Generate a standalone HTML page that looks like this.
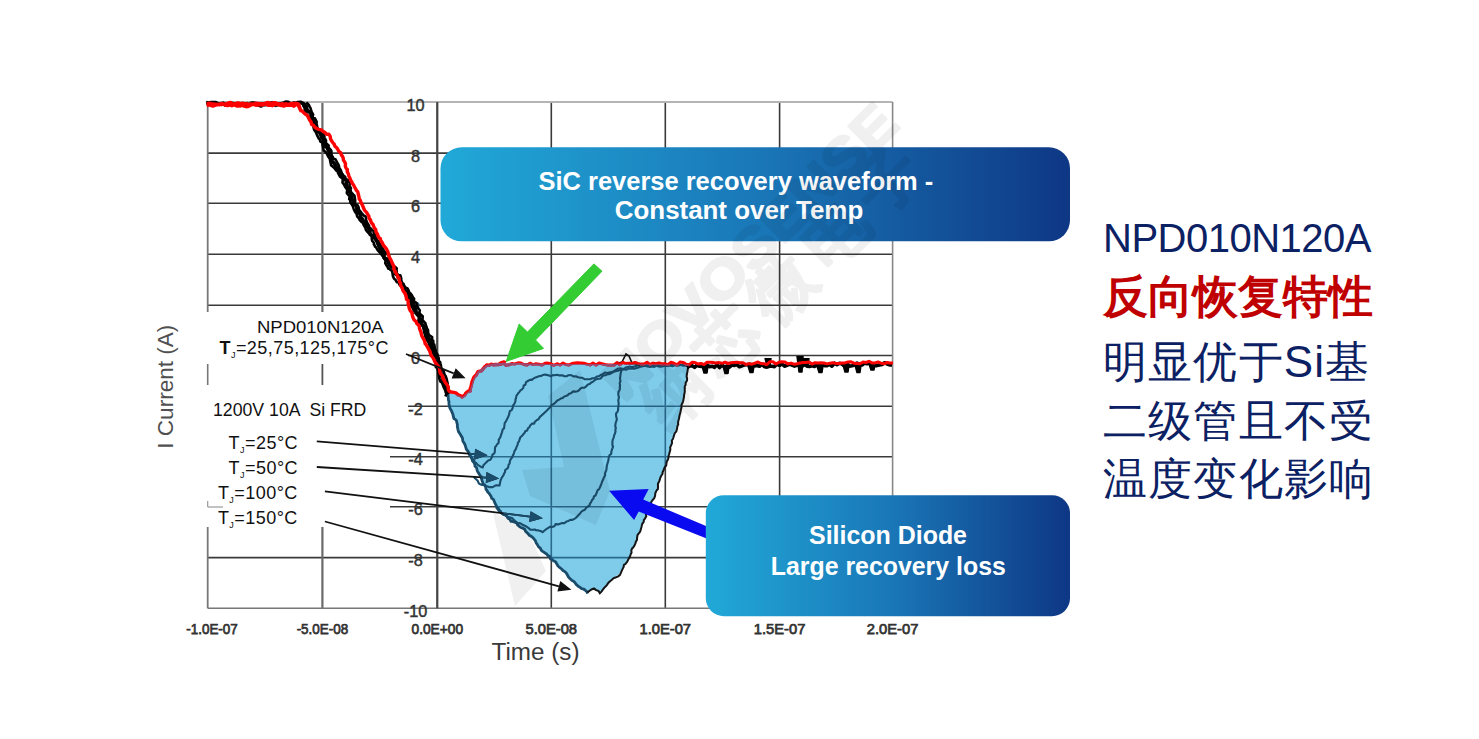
<!DOCTYPE html>
<html><head><meta charset="utf-8"><style>
html,body{margin:0;padding:0;background:#fff;}
body{width:1479px;height:739px;position:relative;overflow:hidden;font-family:"Liberation Sans",sans-serif;}
svg{position:absolute;left:0;top:0;}
.r{position:absolute;left:1103px;white-space:nowrap;color:#0c2163;line-height:1;}
</style></head><body>
<svg width="1479" height="739" viewBox="0 0 1479 739">
<line x1="207.7" y1="153.1" x2="892.6" y2="153.1" stroke="#3a3a3a" stroke-width="1.6"/>
<line x1="207.7" y1="203.2" x2="892.6" y2="203.2" stroke="#3a3a3a" stroke-width="1.6"/>
<line x1="207.7" y1="254.3" x2="892.6" y2="254.3" stroke="#3a3a3a" stroke-width="1.6"/>
<line x1="207.7" y1="305.2" x2="892.6" y2="305.2" stroke="#3a3a3a" stroke-width="1.6"/>
<line x1="207.7" y1="355.5" x2="892.6" y2="355.5" stroke="#3a3a3a" stroke-width="1.6"/>
<line x1="207.7" y1="406.2" x2="892.6" y2="406.2" stroke="#3a3a3a" stroke-width="1.6"/>
<line x1="207.7" y1="456.7" x2="892.6" y2="456.7" stroke="#3a3a3a" stroke-width="1.6"/>
<line x1="207.7" y1="506.8" x2="892.6" y2="506.8" stroke="#3a3a3a" stroke-width="1.6"/>
<line x1="207.7" y1="557.6" x2="892.6" y2="557.6" stroke="#3a3a3a" stroke-width="1.6"/>
<line x1="322.4" y1="101.9" x2="322.4" y2="608.3" stroke="#6a6a6a" stroke-width="2.2"/>
<line x1="437.3" y1="101.9" x2="437.3" y2="608.3" stroke="#3a3a3a" stroke-width="1.6"/>
<line x1="551.3" y1="101.9" x2="551.3" y2="608.3" stroke="#3a3a3a" stroke-width="1.6"/>
<line x1="665.3" y1="101.9" x2="665.3" y2="608.3" stroke="#3a3a3a" stroke-width="1.6"/>
<line x1="779.6" y1="101.9" x2="779.6" y2="608.3" stroke="#3a3a3a" stroke-width="1.6"/>
<line x1="205.7" y1="101.9" x2="892.6" y2="101.9" stroke="#b4b4b4" stroke-width="2"/>
<line x1="207.7" y1="608.3" x2="892.6" y2="608.3" stroke="#777" stroke-width="1.6"/>
<line x1="207.7" y1="101.9" x2="207.7" y2="608.3" stroke="#777" stroke-width="1.8"/>
<line x1="892.6" y1="101.9" x2="892.6" y2="608.3" stroke="#888" stroke-width="1.6"/>
<line x1="437.3" y1="101.9" x2="437.3" y2="608.3" stroke="#444" stroke-width="2"/>
<rect x="204" y="312" width="186" height="215" fill="#fff"/>
<rect x="204" y="312" width="204" height="96" fill="#fff"/>
<line x1="207.7" y1="364" x2="207.7" y2="385" stroke="#777" stroke-width="1.6"/>
<line x1="322.4" y1="364" x2="322.4" y2="385" stroke="#555" stroke-width="1.8"/>
<line x1="207.7" y1="507" x2="223" y2="507" stroke="#999" stroke-width="1.2"/>
<line x1="207.7" y1="501" x2="207.7" y2="507" stroke="#999" stroke-width="1.2"/>
<text x="415.5" y="110.5" text-anchor="middle" font-family="Liberation Sans" font-size="16.3" fill="#333" stroke="#333" stroke-width="0.45">10</text>
<text x="415.5" y="161.7" text-anchor="middle" font-family="Liberation Sans" font-size="16.3" fill="#333" stroke="#333" stroke-width="0.45">8</text>
<text x="415.5" y="211.8" text-anchor="middle" font-family="Liberation Sans" font-size="16.3" fill="#333" stroke="#333" stroke-width="0.45">6</text>
<text x="415.5" y="262.9" text-anchor="middle" font-family="Liberation Sans" font-size="16.3" fill="#333" stroke="#333" stroke-width="0.45">4</text>
<text x="415.5" y="313.8" text-anchor="middle" font-family="Liberation Sans" font-size="16.3" fill="#333" stroke="#333" stroke-width="0.45">2</text>
<text x="415.5" y="364.1" text-anchor="middle" font-family="Liberation Sans" font-size="16.3" fill="#333" stroke="#333" stroke-width="0.45">0</text>
<text x="415.5" y="414.8" text-anchor="middle" font-family="Liberation Sans" font-size="16.3" fill="#333" stroke="#333" stroke-width="0.45">-2</text>
<text x="415.5" y="465.3" text-anchor="middle" font-family="Liberation Sans" font-size="16.3" fill="#333" stroke="#333" stroke-width="0.45">-4</text>
<text x="415.5" y="515.4" text-anchor="middle" font-family="Liberation Sans" font-size="16.3" fill="#333" stroke="#333" stroke-width="0.45">-6</text>
<text x="415.5" y="566.2" text-anchor="middle" font-family="Liberation Sans" font-size="16.3" fill="#333" stroke="#333" stroke-width="0.45">-8</text>
<text x="415.5" y="616.9" text-anchor="middle" font-family="Liberation Sans" font-size="16.3" fill="#333" stroke="#333" stroke-width="0.45">-10</text>
<text x="212.0" y="633.9" text-anchor="middle" font-family="Liberation Sans" font-size="15" textLength="51.5" lengthAdjust="spacingAndGlyphs" fill="#333" stroke="#333" stroke-width="0.75">-1.0E-07</text>
<text x="322.4" y="633.9" text-anchor="middle" font-family="Liberation Sans" font-size="15" textLength="51.5" lengthAdjust="spacingAndGlyphs" fill="#333" stroke="#333" stroke-width="0.75">-5.0E-08</text>
<text x="437.3" y="633.9" text-anchor="middle" font-family="Liberation Sans" font-size="15" textLength="51.5" lengthAdjust="spacingAndGlyphs" fill="#333" stroke="#333" stroke-width="0.75">0.0E+00</text>
<text x="551.3" y="633.9" text-anchor="middle" font-family="Liberation Sans" font-size="15" textLength="51.5" lengthAdjust="spacingAndGlyphs" fill="#333" stroke="#333" stroke-width="0.75">5.0E-08</text>
<text x="665.3" y="633.9" text-anchor="middle" font-family="Liberation Sans" font-size="15" textLength="51.5" lengthAdjust="spacingAndGlyphs" fill="#333" stroke="#333" stroke-width="0.75">1.0E-07</text>
<text x="779.6" y="633.9" text-anchor="middle" font-family="Liberation Sans" font-size="15" textLength="51.5" lengthAdjust="spacingAndGlyphs" fill="#333" stroke="#333" stroke-width="0.75">1.5E-07</text>
<text x="892.6" y="633.9" text-anchor="middle" font-family="Liberation Sans" font-size="15" textLength="51.5" lengthAdjust="spacingAndGlyphs" fill="#333" stroke="#333" stroke-width="0.75">2.0E-07</text>
<text x="535.5" y="660" text-anchor="middle" font-family="Liberation Sans" font-size="23" textLength="88" lengthAdjust="spacingAndGlyphs" fill="#3a3a3a">Time (s)</text>
<text transform="translate(173,386.7) rotate(-90)" text-anchor="middle" font-family="Liberation Sans" font-size="21.5" textLength="124" lengthAdjust="spacingAndGlyphs" fill="#505050">I Current (A)</text>
<path d="M446.0,393.0 L449.5,393.5 L451.7,393.8 L453.8,394.2 L456.0,394.5 L458.2,395.3 L460.3,396.2 L462.5,397.0 L464.0,395.6 L465.5,394.2 L467.0,392.8 L468.5,391.4 L470.0,390.0 L470.7,387.8 L471.3,385.6 L472.0,383.4 L472.6,381.2 L473.3,379.0 L474.4,377.1 L475.5,375.2 L476.5,373.4 L477.6,371.5 L479.3,370.2 L481.1,368.9 L482.8,367.6 L484.6,366.3 L486.3,365.0 L488.5,364.6 L490.6,364.1 L492.8,363.6 L495.0,363.2 L497.2,363.1 L499.3,363.0 L501.5,362.9 L503.6,362.8 L505.8,362.7 L507.8,362.8 L509.9,362.8 L511.9,362.9 L513.9,362.9 L516.0,363.0 L518.0,363.1 L520.0,363.1 L522.1,363.2 L524.1,363.2 L526.1,363.3 L528.1,363.4 L530.2,363.4 L532.2,363.5 L534.2,363.5 L536.3,363.6 L538.3,363.6 L540.3,363.7 L542.4,363.8 L544.4,363.8 L546.4,363.9 L548.5,363.9 L550.5,364.0 L552.5,364.0 L554.6,364.0 L556.6,364.0 L558.6,364.0 L560.7,364.0 L562.7,364.0 L564.7,364.0 L566.8,364.0 L568.8,364.0 L570.8,364.0 L572.9,364.1 L574.9,364.1 L576.9,364.1 L579.0,364.1 L581.0,364.1 L583.0,364.1 L585.1,364.1 L587.1,364.1 L589.1,364.1 L591.2,364.1 L593.2,364.1 L595.2,364.1 L597.3,364.1 L599.3,364.1 L601.4,364.1 L603.4,364.1 L605.4,364.1 L607.5,364.1 L609.5,364.1 L611.5,364.1 L613.6,364.1 L615.6,364.1 L617.6,364.1 L619.7,364.2 L621.7,364.2 L623.7,364.2 L625.8,364.2 L627.8,364.2 L629.8,364.2 L631.9,364.2 L633.9,364.2 L635.9,364.2 L638.0,364.2 L640.0,364.2 L642.0,364.2 L644.1,364.2 L646.1,364.2 L648.2,364.2 L650.2,364.3 L652.2,364.3 L654.3,364.3 L656.3,364.3 L658.4,364.3 L660.4,364.3 L662.5,364.3 L664.5,364.4 L666.5,364.4 L668.6,364.4 L670.6,364.4 L672.7,364.4 L674.7,364.4 L676.8,364.4 L678.8,364.4 L680.8,364.4 L682.9,364.5 L684.9,364.5 L687.0,364.5 L689.0,364.5 L689.0,365.0 L688.6,367.1 L688.2,369.2 L687.9,371.3 L687.5,373.4 L687.1,375.5 L686.7,377.6 L686.4,379.8 L686.0,381.9 L685.6,384.0 L685.2,386.1 L684.9,388.2 L684.5,390.3 L684.1,392.4 L683.7,394.4 L683.3,396.5 L682.9,398.5 L682.5,400.5 L682.1,402.6 L681.7,404.6 L681.3,406.6 L680.9,408.6 L680.4,410.7 L680.0,412.7 L679.6,414.7 L679.2,416.8 L678.8,418.8 L678.4,420.8 L678.0,422.9 L677.6,424.9 L677.0,426.9 L676.4,428.9 L675.8,431.0 L675.2,433.0 L674.6,435.0 L674.0,437.1 L673.4,439.1 L672.8,441.1 L672.1,443.1 L671.5,445.1 L670.9,447.2 L670.3,449.2 L669.7,451.2 L669.1,453.2 L668.5,455.3 L667.9,457.3 L667.2,459.2 L666.6,461.2 L665.9,463.2 L665.3,465.1 L664.6,467.1 L664.0,469.0 L663.4,470.9 L662.7,472.9 L662.0,474.9 L661.4,476.8 L660.8,478.8 L660.1,480.7 L659.4,482.7 L658.8,484.6 L658.1,486.6 L657.5,488.5 L656.9,490.4 L656.2,492.4 L655.5,494.4 L654.9,496.3 L654.0,498.2 L653.2,500.2 L652.3,502.1 L651.4,504.1 L650.6,506.0 L649.7,508.0 L648.8,509.9 L648.0,511.9 L647.1,513.8 L646.2,515.8 L645.4,517.7 L644.5,519.7 L643.6,521.6 L642.8,523.6 L641.9,525.5 L641.1,527.4 L640.4,529.4 L639.6,531.3 L638.9,533.3 L638.1,535.2 L637.4,537.2 L636.6,539.1 L635.9,541.1 L635.1,543.0 L634.4,545.0 L633.6,546.9 L632.9,548.9 L632.1,550.8 L631.4,552.8 L630.6,554.7 L629.6,556.5 L628.5,558.2 L627.5,560.0 L626.5,561.8 L625.4,563.5 L624.4,565.3 L623.3,567.0 L622.3,568.8 L621.3,570.6 L620.2,572.3 L619.2,574.1 L617.0,575.5 L614.7,576.9 L613.3,578.6 L611.9,580.3 L610.5,582.0 L609.0,583.7 L607.6,585.4 L606.2,587.1 L604.6,588.5 L603.0,589.8 L601.4,591.1 L599.8,592.5 L598.0,591.4 L596.2,590.2 L594.4,589.1 L592.2,590.2 L589.9,591.4 L587.7,592.5 L587.7,592.5 L586.0,591.4 L584.3,590.2 L582.6,589.1 L580.9,588.0 L579.2,586.8 L577.5,585.7 L576.0,584.4 L574.5,583.0 L572.9,581.6 L571.4,580.3 L570.1,578.7 L568.7,577.0 L567.4,575.4 L566.0,573.7 L564.7,572.1 L563.3,570.4 L562.0,568.8 L560.3,567.3 L558.6,565.9 L556.9,564.4 L555.2,562.9 L553.5,561.5 L551.8,560.0 L550.4,558.5 L549.0,557.0 L547.6,555.5 L546.2,554.0 L544.8,552.5 L543.3,551.0 L541.9,549.5 L540.5,548.0 L539.1,546.5 L537.7,545.0 L536.3,543.3 L534.8,541.6 L533.4,539.9 L532.0,538.2 L530.5,536.6 L529.1,534.9 L527.7,533.2 L526.2,531.5 L524.8,529.8 L523.1,528.7 L521.4,527.5 L519.7,526.4 L518.0,525.2 L516.2,524.1 L514.5,522.9 L512.8,521.8 L511.1,520.6 L509.4,519.5 L508.0,518.1 L506.6,516.7 L505.1,515.2 L503.7,513.8 L502.3,512.4 L500.9,511.0 L499.4,509.5 L498.0,508.1 L496.6,506.7 L495.6,504.9 L494.6,503.1 L493.6,501.3 L492.6,499.6 L491.6,497.8 L490.6,496.0 L489.7,494.2 L488.7,492.4 L487.7,490.6 L486.7,488.9 L485.7,487.1 L484.7,485.3 L483.7,483.5 L482.8,481.7 L481.9,479.8 L480.9,478.0 L480.0,476.2 L479.1,474.3 L478.2,472.5 L477.2,470.6 L476.3,468.8 L475.4,467.0 L474.5,465.1 L473.6,463.3 L472.6,461.5 L471.7,459.6 L470.8,457.8 L469.9,455.9 L469.1,453.9 L468.2,452.0 L467.4,450.1 L466.6,448.2 L465.7,446.2 L464.9,444.3 L464.0,442.4 L463.2,440.5 L462.3,438.6 L461.5,436.6 L460.6,434.7 L459.9,432.8 L459.2,430.9 L458.5,429.0 L457.9,427.2 L457.2,425.3 L456.5,423.4 L455.8,421.5 L455.1,419.6 L454.4,417.7 L453.7,415.8 L453.0,413.9 L452.4,412.1 L451.7,410.2 L451.0,408.3 L450.3,406.4 L449.7,404.2 L449.2,402.0 L448.6,399.8 L448.1,397.6 L447.5,395.4 L447.0,393.2 L446.4,391.0 Z" fill="#7ecbea"/>
<clipPath id="fc"><path d="M446.0,393.0 L449.5,393.5 L451.7,393.8 L453.8,394.2 L456.0,394.5 L458.2,395.3 L460.3,396.2 L462.5,397.0 L464.0,395.6 L465.5,394.2 L467.0,392.8 L468.5,391.4 L470.0,390.0 L470.7,387.8 L471.3,385.6 L472.0,383.4 L472.6,381.2 L473.3,379.0 L474.4,377.1 L475.5,375.2 L476.5,373.4 L477.6,371.5 L479.3,370.2 L481.1,368.9 L482.8,367.6 L484.6,366.3 L486.3,365.0 L488.5,364.6 L490.6,364.1 L492.8,363.6 L495.0,363.2 L497.2,363.1 L499.3,363.0 L501.5,362.9 L503.6,362.8 L505.8,362.7 L507.8,362.8 L509.9,362.8 L511.9,362.9 L513.9,362.9 L516.0,363.0 L518.0,363.1 L520.0,363.1 L522.1,363.2 L524.1,363.2 L526.1,363.3 L528.1,363.4 L530.2,363.4 L532.2,363.5 L534.2,363.5 L536.3,363.6 L538.3,363.6 L540.3,363.7 L542.4,363.8 L544.4,363.8 L546.4,363.9 L548.5,363.9 L550.5,364.0 L552.5,364.0 L554.6,364.0 L556.6,364.0 L558.6,364.0 L560.7,364.0 L562.7,364.0 L564.7,364.0 L566.8,364.0 L568.8,364.0 L570.8,364.0 L572.9,364.1 L574.9,364.1 L576.9,364.1 L579.0,364.1 L581.0,364.1 L583.0,364.1 L585.1,364.1 L587.1,364.1 L589.1,364.1 L591.2,364.1 L593.2,364.1 L595.2,364.1 L597.3,364.1 L599.3,364.1 L601.4,364.1 L603.4,364.1 L605.4,364.1 L607.5,364.1 L609.5,364.1 L611.5,364.1 L613.6,364.1 L615.6,364.1 L617.6,364.1 L619.7,364.2 L621.7,364.2 L623.7,364.2 L625.8,364.2 L627.8,364.2 L629.8,364.2 L631.9,364.2 L633.9,364.2 L635.9,364.2 L638.0,364.2 L640.0,364.2 L642.0,364.2 L644.1,364.2 L646.1,364.2 L648.2,364.2 L650.2,364.3 L652.2,364.3 L654.3,364.3 L656.3,364.3 L658.4,364.3 L660.4,364.3 L662.5,364.3 L664.5,364.4 L666.5,364.4 L668.6,364.4 L670.6,364.4 L672.7,364.4 L674.7,364.4 L676.8,364.4 L678.8,364.4 L680.8,364.4 L682.9,364.5 L684.9,364.5 L687.0,364.5 L689.0,364.5 L689.0,365.0 L688.6,367.1 L688.2,369.2 L687.9,371.3 L687.5,373.4 L687.1,375.5 L686.7,377.6 L686.4,379.8 L686.0,381.9 L685.6,384.0 L685.2,386.1 L684.9,388.2 L684.5,390.3 L684.1,392.4 L683.7,394.4 L683.3,396.5 L682.9,398.5 L682.5,400.5 L682.1,402.6 L681.7,404.6 L681.3,406.6 L680.9,408.6 L680.4,410.7 L680.0,412.7 L679.6,414.7 L679.2,416.8 L678.8,418.8 L678.4,420.8 L678.0,422.9 L677.6,424.9 L677.0,426.9 L676.4,428.9 L675.8,431.0 L675.2,433.0 L674.6,435.0 L674.0,437.1 L673.4,439.1 L672.8,441.1 L672.1,443.1 L671.5,445.1 L670.9,447.2 L670.3,449.2 L669.7,451.2 L669.1,453.2 L668.5,455.3 L667.9,457.3 L667.2,459.2 L666.6,461.2 L665.9,463.2 L665.3,465.1 L664.6,467.1 L664.0,469.0 L663.4,470.9 L662.7,472.9 L662.0,474.9 L661.4,476.8 L660.8,478.8 L660.1,480.7 L659.4,482.7 L658.8,484.6 L658.1,486.6 L657.5,488.5 L656.9,490.4 L656.2,492.4 L655.5,494.4 L654.9,496.3 L654.0,498.2 L653.2,500.2 L652.3,502.1 L651.4,504.1 L650.6,506.0 L649.7,508.0 L648.8,509.9 L648.0,511.9 L647.1,513.8 L646.2,515.8 L645.4,517.7 L644.5,519.7 L643.6,521.6 L642.8,523.6 L641.9,525.5 L641.1,527.4 L640.4,529.4 L639.6,531.3 L638.9,533.3 L638.1,535.2 L637.4,537.2 L636.6,539.1 L635.9,541.1 L635.1,543.0 L634.4,545.0 L633.6,546.9 L632.9,548.9 L632.1,550.8 L631.4,552.8 L630.6,554.7 L629.6,556.5 L628.5,558.2 L627.5,560.0 L626.5,561.8 L625.4,563.5 L624.4,565.3 L623.3,567.0 L622.3,568.8 L621.3,570.6 L620.2,572.3 L619.2,574.1 L617.0,575.5 L614.7,576.9 L613.3,578.6 L611.9,580.3 L610.5,582.0 L609.0,583.7 L607.6,585.4 L606.2,587.1 L604.6,588.5 L603.0,589.8 L601.4,591.1 L599.8,592.5 L598.0,591.4 L596.2,590.2 L594.4,589.1 L592.2,590.2 L589.9,591.4 L587.7,592.5 L587.7,592.5 L586.0,591.4 L584.3,590.2 L582.6,589.1 L580.9,588.0 L579.2,586.8 L577.5,585.7 L576.0,584.4 L574.5,583.0 L572.9,581.6 L571.4,580.3 L570.1,578.7 L568.7,577.0 L567.4,575.4 L566.0,573.7 L564.7,572.1 L563.3,570.4 L562.0,568.8 L560.3,567.3 L558.6,565.9 L556.9,564.4 L555.2,562.9 L553.5,561.5 L551.8,560.0 L550.4,558.5 L549.0,557.0 L547.6,555.5 L546.2,554.0 L544.8,552.5 L543.3,551.0 L541.9,549.5 L540.5,548.0 L539.1,546.5 L537.7,545.0 L536.3,543.3 L534.8,541.6 L533.4,539.9 L532.0,538.2 L530.5,536.6 L529.1,534.9 L527.7,533.2 L526.2,531.5 L524.8,529.8 L523.1,528.7 L521.4,527.5 L519.7,526.4 L518.0,525.2 L516.2,524.1 L514.5,522.9 L512.8,521.8 L511.1,520.6 L509.4,519.5 L508.0,518.1 L506.6,516.7 L505.1,515.2 L503.7,513.8 L502.3,512.4 L500.9,511.0 L499.4,509.5 L498.0,508.1 L496.6,506.7 L495.6,504.9 L494.6,503.1 L493.6,501.3 L492.6,499.6 L491.6,497.8 L490.6,496.0 L489.7,494.2 L488.7,492.4 L487.7,490.6 L486.7,488.9 L485.7,487.1 L484.7,485.3 L483.7,483.5 L482.8,481.7 L481.9,479.8 L480.9,478.0 L480.0,476.2 L479.1,474.3 L478.2,472.5 L477.2,470.6 L476.3,468.8 L475.4,467.0 L474.5,465.1 L473.6,463.3 L472.6,461.5 L471.7,459.6 L470.8,457.8 L469.9,455.9 L469.1,453.9 L468.2,452.0 L467.4,450.1 L466.6,448.2 L465.7,446.2 L464.9,444.3 L464.0,442.4 L463.2,440.5 L462.3,438.6 L461.5,436.6 L460.6,434.7 L459.9,432.8 L459.2,430.9 L458.5,429.0 L457.9,427.2 L457.2,425.3 L456.5,423.4 L455.8,421.5 L455.1,419.6 L454.4,417.7 L453.7,415.8 L453.0,413.9 L452.4,412.1 L451.7,410.2 L451.0,408.3 L450.3,406.4 L449.7,404.2 L449.2,402.0 L448.6,399.8 L448.1,397.6 L447.5,395.4 L447.0,393.2 L446.4,391.0 Z"/></clipPath>
<g clip-path="url(#fc)"><line x1="207.7" y1="153.1" x2="892.6" y2="153.1" stroke="#2a6a8c" stroke-width="1.6"/><line x1="207.7" y1="203.2" x2="892.6" y2="203.2" stroke="#2a6a8c" stroke-width="1.6"/><line x1="207.7" y1="254.3" x2="892.6" y2="254.3" stroke="#2a6a8c" stroke-width="1.6"/><line x1="207.7" y1="305.2" x2="892.6" y2="305.2" stroke="#2a6a8c" stroke-width="1.6"/><line x1="207.7" y1="355.5" x2="892.6" y2="355.5" stroke="#2a6a8c" stroke-width="1.6"/><line x1="207.7" y1="406.2" x2="892.6" y2="406.2" stroke="#2a6a8c" stroke-width="1.6"/><line x1="207.7" y1="456.7" x2="892.6" y2="456.7" stroke="#2a6a8c" stroke-width="1.6"/><line x1="207.7" y1="506.8" x2="892.6" y2="506.8" stroke="#2a6a8c" stroke-width="1.6"/><line x1="207.7" y1="557.6" x2="892.6" y2="557.6" stroke="#2a6a8c" stroke-width="1.6"/><line x1="322.4" y1="101.9" x2="322.4" y2="608.3" stroke="#2a6a8c" stroke-width="1.6"/><line x1="437.3" y1="101.9" x2="437.3" y2="608.3" stroke="#2a6a8c" stroke-width="1.6"/><line x1="551.3" y1="101.9" x2="551.3" y2="608.3" stroke="#2a6a8c" stroke-width="1.6"/><line x1="665.3" y1="101.9" x2="665.3" y2="608.3" stroke="#2a6a8c" stroke-width="1.6"/><line x1="779.6" y1="101.9" x2="779.6" y2="608.3" stroke="#2a6a8c" stroke-width="1.6"/></g>
<path d="M468.4,452.6 L469.6,455.4 L471.0,456.9 L472.2,458.1 L473.9,460.5 L474.7,461.7 L476.4,463.2 L477.7,464.9 L480.7,466.7 L482.8,467.5 L483.4,465.2 L484.6,464.1 L486.2,462.4 L488.1,460.5 L490.4,459.7 L491.3,458.2 L492.1,456.5 L492.4,454.6 L494.0,453.7 L494.8,452.1 L494.9,449.3 L495.2,447.0 L496.2,445.8 L497.1,444.3 L498.6,442.9 L498.8,439.5 L499.7,438.4 L500.4,437.0 L501.5,433.7 L502.0,432.3 L502.7,429.4 L504.0,428.5 L504.4,425.6 L504.7,423.1 L505.4,422.1 L506.5,420.2 L507.9,417.6 L508.9,415.2 L509.4,413.0 L509.9,411.0 L511.4,410.4 L512.7,407.9 L513.0,405.5 L514.0,404.4 L515.4,401.5 L515.5,399.3 L516.0,398.2 L516.4,395.8 L518.0,393.5 L519.4,391.8 L520.5,390.3 L521.6,389.7 L523.3,387.9 L523.7,385.5 L525.4,384.7 L526.0,382.2 L527.9,381.0 L530.2,379.7 L531.8,379.9 L532.9,378.9 L535.6,377.4 L537.6,376.7 L539.7,376.0 L541.0,376.0 L543.2,374.9 L544.7,374.5 L547.5,375.1 L549.1,375.6 L550.9,376.3 L552.9,375.1 L554.7,375.3 L557.1,374.8 L559.1,375.4 L562.2,375.2 L564.5,376.3 L566.6,376.3 L568.0,375.3 L571.0,375.1 L573.8,376.5 L575.8,376.3 L578.0,377.3 L580.6,377.7 L582.4,377.8 L584.9,379.3 L587.3,379.3 L590.1,379.2 L592.4,378.2 L594.7,378.0 L596.8,376.6 L598.6,376.3 L600.3,375.3 L602.6,374.3 L604.8,372.5 L607.4,373.1 L609.1,372.6 L611.4,372.1 L613.9,371.1 L616.2,369.6 L618.3,368.5 L619.8,368.5 L621.9,368.8 L624.6,368.6 L625.6,367.6 L628.0,367.1 L629.5,366.4 L632.0,367.2 L634.6,366.5 L636.5,365.8 L638.2,365.0 L640.7,365.5 L642.2,366.1 L643.9,365.8 L646.0,364.9 L648.6,365.7 L651.1,365.8 L652.2,365.1 L654.0,365.1 L656.1,364.6 L658.2,365.1 L660.8,364.8 L662.6,365.8 L663.9,364.7 L665.6,365.6 L668.2,365.7 L670.9,365.1 L672.3,364.2 L673.9,364.6 L676.0,365.4 L677.8,364.6 L680.3,365.0 L682.8,365.3 L685.6,365.7 L686.9,365.7" fill="none" stroke="#1a4d6b" stroke-width="2.1" stroke-linejoin="round"/>
<path d="M474.2,476.0 L474.7,478.2 L475.9,479.0 L477.7,480.8 L478.9,483.5 L481.0,484.6 L482.8,485.0 L485.4,485.7 L487.5,486.4 L489.5,487.3 L491.1,486.9 L492.3,487.3 L495.3,485.6 L496.6,485.2 L499.5,485.5 L500.1,482.6 L500.6,480.3 L501.1,479.2 L501.6,477.8 L503.4,475.3 L504.1,473.5 L505.0,472.1 L505.2,470.0 L507.1,468.7 L508.1,467.6 L508.5,465.1 L509.6,463.5 L510.0,460.7 L511.0,458.7 L511.9,457.7 L513.3,454.8 L513.9,453.1 L514.6,450.9 L515.8,449.2 L516.6,446.9 L517.6,444.9 L517.9,442.8 L519.0,441.3 L519.7,439.1 L520.3,437.3 L521.9,436.0 L523.2,434.4 L524.8,432.5 L525.2,431.2 L527.2,430.5 L528.0,428.1 L529.2,427.6 L530.0,425.7 L532.0,423.6 L534.3,423.6 L534.7,422.0 L536.9,420.0 L538.5,419.2 L539.9,416.9 L541.5,415.5 L543.6,413.6 L544.2,413.0 L546.4,410.9 L548.3,409.0 L549.7,407.7 L550.5,406.7 L551.7,404.9 L553.8,404.0 L555.9,402.0 L556.9,400.8 L559.2,399.6 L560.7,398.6 L562.7,398.1 L563.7,396.9 L566.0,395.9 L567.6,395.3 L569.1,393.8 L571.0,393.3 L573.1,391.4 L575.2,391.6 L577.4,391.3 L579.2,390.1 L580.1,388.8 L581.8,387.7 L584.1,387.8 L586.1,386.5 L587.9,384.5 L589.5,384.1 L591.3,382.5 L593.5,381.4 L594.7,379.9 L597.1,379.0 L599.2,378.8 L600.7,378.5 L602.6,376.2 L604.0,375.3 L606.0,375.1 L607.9,373.9 L609.4,374.2 L611.5,373.0 L613.7,371.8 L616.5,370.9 L618.5,370.7 L620.2,369.6 L622.6,369.8 L624.2,369.1 L626.6,369.6 L628.4,368.6 L630.0,368.8 L632.2,368.6 L634.2,368.8 L635.9,368.2 L637.7,367.8 L639.6,367.0 L641.3,366.4 L643.8,365.9 L645.3,365.7 L647.5,366.5 L650.0,367.1 L652.7,366.4 L654.3,366.9 L656.5,365.8 L658.6,366.5 L660.4,366.7 L662.1,366.4 L664.2,365.9 L666.2,365.6 L668.0,366.1 L670.0,365.3 L672.4,366.2 L675.1,365.0 L677.4,365.8 L679.5,365.2 L680.7,364.8 L683.3,365.6 L685.7,364.8 L687.1,364.0" fill="none" stroke="#1a4d6b" stroke-width="2.1" stroke-linejoin="round"/>
<path d="M496.3,507.6 L498.2,510.0 L499.0,511.3 L500.5,511.9 L502.0,513.8 L503.7,514.9 L505.8,515.6 L508.0,517.4 L509.5,517.3 L512.1,518.0 L514.1,520.1 L516.0,521.7 L517.9,523.2 L519.8,523.1 L521.6,524.0 L522.9,525.0 L524.5,525.6 L525.8,526.2 L528.3,527.9 L530.4,529.6 L532.7,529.8 L534.8,529.5 L536.2,530.2 L538.5,530.4 L540.6,531.0 L542.6,532.2 L544.5,530.5 L546.0,529.3 L547.9,528.1 L550.2,526.7 L551.9,527.1 L554.4,526.3 L555.5,524.1 L558.1,524.4 L559.4,523.9 L562.1,523.0 L564.3,523.1 L566.5,521.6 L568.4,520.9 L570.7,519.8 L572.5,519.9 L574.3,518.9 L575.7,518.1 L577.3,516.6 L578.3,515.2 L580.1,513.5 L581.1,512.0 L583.0,510.5 L584.6,510.0 L586.0,508.1 L587.0,507.1 L589.5,505.4 L590.0,503.6 L591.1,502.1 L592.0,500.1 L593.4,498.7 L593.9,496.5 L595.6,495.4 L596.1,494.0 L596.7,492.7 L597.7,490.0 L599.0,489.4 L600.1,487.0 L600.5,486.0 L601.3,484.1 L602.1,481.7 L603.1,479.5 L604.1,477.2 L605.2,475.0 L604.9,473.8 L605.3,472.5 L606.3,470.3 L606.6,467.8 L606.8,465.8 L607.2,464.5 L607.7,462.8 L608.5,459.9 L608.8,457.0 L609.6,455.1 L611.1,454.0 L611.5,451.0 L612.3,448.6 L613.1,446.7 L612.4,445.2 L612.4,442.5 L612.4,441.7 L612.8,439.6 L613.8,437.3 L614.3,434.9 L615.0,433.5 L615.5,431.6 L615.4,429.5 L615.9,427.7 L615.2,426.4 L615.6,423.3 L616.0,422.0 L616.9,419.4 L616.3,417.1 L616.0,414.6 L616.1,413.5 L617.4,411.9 L618.0,410.6 L618.2,407.9 L618.4,406.2 L618.7,403.4 L618.3,400.6 L618.4,399.8 L619.0,397.0 L618.3,395.0 L618.4,392.1 L619.5,390.2 L620.0,388.1 L619.7,387.1 L620.1,385.8 L619.7,383.2 L620.5,380.9 L620.0,378.7 L620.3,376.3 L620.6,373.7 L621.3,371.0 L620.7,368.9 L620.8,367.5" fill="none" stroke="#1a4d6b" stroke-width="2.1" stroke-linejoin="round"/>
<path d="M446.7,390.4 L447.1,393.1 L448.0,394.9 L448.3,397.9 L448.4,400.0 L448.9,401.2 L449.0,403.9 L449.5,406.8 L449.9,408.0 L451.5,410.9 L452.4,413.1 L452.8,413.6 L453.1,415.7 L453.9,418.5 L455.3,419.4 L456.5,420.7 L456.9,422.9 L457.4,424.7 L457.3,426.3 L457.9,429.3 L458.5,431.6 L460.1,434.0 L461.1,435.7 L462.0,437.3 L462.5,438.2 L462.8,440.9 L464.4,443.4 L464.9,444.6 L465.5,446.3 L466.3,449.1 L466.7,449.7 L468.6,452.2 L469.3,454.0 L470.4,456.0 L471.2,457.4 L472.1,459.5 L472.4,460.8 L474.0,462.7 L474.9,464.6 L475.0,466.3 L476.6,467.7 L477.2,470.6 L478.4,472.8 L479.9,475.2 L481.1,476.4 L481.6,479.0 L482.2,481.0 L482.6,482.0 L483.1,484.4 L484.8,484.9 L485.7,487.4 L486.1,489.6 L487.1,490.6 L487.9,492.3 L489.0,493.3 L491.0,496.3 L491.8,498.4 L493.4,499.4 L494.3,501.3 L494.6,502.3 L496.0,505.1 L496.9,507.5 L498.3,508.4 L499.3,510.3 L500.5,511.4 L501.4,513.1 L503.9,514.5 L505.4,514.7 L507.2,516.7 L507.9,518.2 L510.0,519.4 L510.9,521.3 L512.1,521.4 L514.1,521.9 L516.6,522.9 L517.6,524.9 L519.2,526.3 L520.8,527.5 L522.3,528.0 L524.7,529.3 L525.5,531.3 L527.9,533.5 L529.6,535.5 L530.7,536.0 L532.4,537.2 L533.9,538.8 L535.4,540.6 L535.9,542.5 L537.2,544.4 L538.6,546.9 L540.3,548.2 L541.3,550.4 L543.0,551.6 L545.3,553.2 L546.7,554.0 L547.9,555.6 L549.6,556.2 L550.5,559.0 L552.6,559.9 L553.3,560.7 L555.5,561.8 L557.0,564.3 L558.0,566.0 L559.9,567.7 L561.6,569.0 L562.8,570.4 L564.3,571.2 L566.1,572.8 L567.7,575.5 L568.5,577.0 L569.9,578.4 L572.0,580.4 L573.2,581.0 L574.9,582.6 L576.6,584.9 L578.2,586.2 L580.1,587.4 L581.6,588.6 L583.5,589.0 L584.9,590.0 L587.0,591.8 L587.5,593.6" fill="none" stroke="#1a4d6b" stroke-width="2.8" stroke-linejoin="round"/>
<path d="M688.5,365.8 L689.1,366.7 L687.9,368.4 L687.5,371.2 L686.9,374.1 L686.6,376.7 L687.1,378.4 L687.1,380.5 L685.7,382.6 L685.6,385.0 L684.8,386.3 L684.7,388.9 L684.8,391.4 L684.4,393.8 L684.0,395.5 L684.1,396.6 L683.7,398.2 L683.1,401.2 L682.8,402.2 L681.6,404.7 L681.3,405.9 L681.5,407.4 L680.8,410.1 L680.4,412.3 L679.6,415.3 L679.3,416.8 L679.0,418.5 L678.4,420.7 L678.0,423.1 L678.3,424.3 L677.3,426.4 L677.1,428.5 L676.2,431.6 L674.8,433.1 L673.9,435.8 L673.4,437.5 L672.9,439.0 L671.8,440.5 L672.1,442.9 L671.1,445.3 L670.1,447.6 L670.4,449.3 L669.7,452.0 L669.1,454.3 L668.6,455.8 L668.3,458.5 L667.8,459.8 L666.7,461.7 L666.4,463.9 L666.2,465.7 L665.1,466.5 L664.0,469.0 L663.6,470.3 L662.5,472.5 L662.6,473.8 L661.1,476.0 L660.3,477.8 L659.4,480.9 L658.5,482.4 L657.9,484.4 L658.0,486.2 L657.9,489.1 L656.9,489.9 L655.5,492.8 L655.2,494.0 L655.1,495.9 L654.1,498.4 L652.8,499.8 L651.5,501.5 L650.5,504.1 L650.3,506.7 L649.6,507.5 L648.1,509.9 L646.9,511.8 L645.9,514.3 L646.3,516.2 L645.0,518.6 L643.8,520.2 L643.8,521.6 L642.1,524.1 L641.8,525.6 L641.5,526.9 L640.7,529.8 L640.3,531.3 L638.8,533.3 L637.6,534.8 L637.1,537.6 L637.0,539.7 L635.6,542.2 L635.5,543.4 L634.4,545.6 L633.2,547.5 L632.0,548.6 L631.3,550.4 L631.6,552.6 L630.8,554.0 L629.8,556.8 L629.0,558.4 L628.4,559.2 L627.3,561.7 L625.3,564.1 L623.9,564.8 L623.7,566.8 L622.4,569.4 L621.6,571.1 L621.1,572.3 L620.0,574.9 L617.8,576.6 L614.8,577.7 L613.0,578.6 L612.3,579.5 L610.0,581.2 L608.2,583.0 L607.0,584.9 L605.8,586.3 L604.2,587.9 L602.5,590.1 L601.7,591.4 L599.8,593.4 L598.6,591.0 L596.1,590.1 L594.0,588.4 L591.4,589.5 L590.3,590.2 L587.3,592.5" fill="none" stroke="#151515" stroke-width="2" stroke-linejoin="round"/>
<path d="M206.2,102.7 L209.1,103.1 L210.4,102.7 L213.4,102.7 L215.9,102.6 L217.0,103.8 L219.2,104.2 L222.5,104.0 L223.2,103.2 L225.3,105.0 L227.3,103.9 L230.6,103.9 L231.7,103.4 L234.0,104.1 L236.7,105.4 L237.7,104.5 L240.9,105.3 L242.9,103.6 L244.8,104.8 L247.0,103.8 L247.9,104.6 L249.3,104.7 L251.3,103.2 L253.5,103.2 L256.4,104.0 L259.2,105.2 L261.2,105.9 L261.9,104.4 L264.1,104.5 L265.2,104.6 L268.5,103.4 L270.6,103.9 L272.1,102.8 L274.4,104.3 L275.6,105.3 L278.4,104.4 L280.8,103.9 L281.6,103.9 L284.8,102.7 L285.8,102.1 L288.3,102.4 L290.1,103.8 L292.7,103.7 L294.2,103.1 L296.5,103.8 L297.6,102.6 L300.5,102.3 L303.5,103.7 L304.5,104.6 L306.6,106.9 L306.2,108.0 L307.0,109.6 L307.5,110.9 L310.0,112.3 L311.1,113.9 L311.2,116.1 L311.9,119.7 L313.1,120.9 L314.2,123.8 L315.0,126.7 L316.5,128.1 L317.8,129.6 L317.6,131.3 L319.4,132.2 L321.0,135.1 L321.6,137.4 L322.9,138.1 L323.1,139.3 L323.6,140.9 L324.5,143.1 L325.6,146.2 L327.1,147.5 L328.5,150.4 L329.2,150.9 L329.3,154.4 L330.9,155.4 L331.3,157.2 L331.9,160.4 L332.3,161.3 L334.0,163.2 L335.4,165.1 L335.8,166.1 L337.1,168.9 L339.3,170.9 L339.5,172.2 L340.8,173.1 L342.1,175.1 L342.4,176.3 L344.7,178.7 L346.3,180.7 L346.4,183.4 L346.5,186.1 L348.2,188.0 L348.3,189.7 L349.3,190.3 L349.7,191.8 L351.5,194.4 L351.8,197.0 L352.0,199.7 L353.2,200.7 L353.2,202.6 L354.8,204.1 L355.8,205.4 L357.1,206.4 L356.9,209.5 L358.4,212.6 L358.6,212.6 L360.8,214.6 L360.4,215.5 L360.7,217.3 L362.5,219.2 L363.0,221.2 L365.2,221.9 L366.2,224.2 L367.6,226.3 L369.2,229.3 L369.5,231.2 L369.6,231.5 L370.2,234.3 L372.7,235.9 L373.3,236.9 L375.3,238.5 L376.6,240.9 L377.5,241.3 L377.8,243.4 L379.1,246.3 L380.3,248.9 L380.7,251.0 L382.1,252.0 L382.0,253.1 L384.0,254.9 L384.0,257.4 L384.7,258.2 L387.1,259.3 L387.5,261.0 L388.5,262.2 L389.4,264.8 L390.1,265.6 L392.4,267.1 L393.7,268.4 L395.0,269.8 L396.2,271.7 L395.8,274.0 L397.7,275.1 L398.5,277.7 L399.9,279.3 L399.8,281.3 L400.8,283.5 L402.3,286.1 L402.7,288.0 L404.5,289.7 L406.4,291.7 L407.3,292.8 L407.7,294.8 L409.4,296.1 L410.3,297.7 L412.2,300.0 L411.8,300.5 L412.3,302.5 L413.6,305.5 L415.3,306.8 L415.2,309.3 L415.7,310.4 L416.2,311.9 L417.4,314.8 L419.5,315.8 L419.8,318.5 L421.1,319.9 L421.1,320.8 L421.5,323.9 L423.4,326.0 L423.9,327.8 L425.5,330.3 L426.9,330.4 L426.7,332.8 L426.5,333.8 L428.4,336.9 L428.3,338.1 L429.1,339.0 L429.2,340.9 L431.1,342.8 L431.6,344.1 L431.8,346.8 L432.0,347.9 L434.4,349.6 L435.4,353.3 L435.5,356.2 L437.0,356.8 L438.2,359.0 L438.0,360.5 L439.2,363.2 L438.8,364.1 L439.5,365.2 L440.2,369.0 L441.1,370.0 L440.6,372.7 L441.8,375.8 L442.1,377.2 L442.8,378.0 L442.9,380.0 L444.2,382.7 L445.8,385.8 L446.3,387.1 L446.3,388.5 L447.6,391.0 L447.4,391.9 L448.3,394.3" fill="none" stroke="#000" stroke-width="3.8" stroke-linejoin="round"/>
<path d="M306.3,102.4 L308.5,104.4 L309.8,106.9 L310.5,108.1 L311.5,111.6 L313.2,114.6 L312.6,115.6 L313.0,118.1 L314.9,118.4 L316.6,121.7 L316.5,124.6 L316.8,124.8 L317.4,128.1 L317.9,128.6 L318.7,129.4 L319.8,131.6 L322.4,133.5 L324.0,135.0 L324.7,138.1 L326.0,140.3 L325.9,142.3 L326.4,143.6 L328.7,145.4 L328.4,147.3 L330.3,149.3 L331.5,151.2 L331.2,152.2 L331.5,155.2 L332.7,156.8 L333.1,158.3 L335.6,159.5 L337.4,162.9 L338.7,165.1 L339.4,167.9 L340.2,169.3 L340.9,170.2 L341.5,172.7 L343.1,175.3 L345.1,176.8 L345.4,178.5 L345.8,179.2 L348.1,180.0 L349.7,182.8 L349.5,185.6 L351.0,188.4 L350.4,189.4 L350.7,190.5 L351.0,192.1 L353.4,194.7 L354.5,195.7 L354.9,198.1 L355.2,201.0 L355.0,203.2 L355.6,205.6 L357.7,205.2 L358.7,207.8 L359.0,210.2 L359.7,210.4 L361.9,213.6 L362.5,214.1 L364.2,215.8 L365.5,216.4 L366.1,218.2 L365.9,219.6 L367.3,223.1 L369.2,225.9 L369.1,227.6 L371.4,228.9 L371.2,230.2 L373.6,230.8 L373.7,234.0 L375.3,234.8 L375.4,236.6 L376.9,239.6 L376.9,240.4 L378.9,242.0 L379.0,242.8 L381.3,245.5 L382.0,246.8 L383.0,249.0 L383.4,249.7 L384.0,251.1 L385.2,252.3 L387.3,254.1 L389.1,256.2 L389.1,259.3 L390.3,260.0 L391.3,262.0 L392.3,263.0 L393.2,266.0 L395.2,267.0 L396.8,268.5 L396.1,271.1 L396.6,272.6 L398.0,275.1 L400.3,275.4 L401.2,278.2 L401.2,279.9 L402.1,282.7 L403.5,283.7 L403.8,284.9 L405.4,287.5 L407.5,288.4 L408.8,290.8 L409.2,293.1 L410.0,292.9 L411.8,295.0 L412.9,297.3 L414.1,298.9 L413.8,300.5 L414.8,302.1 L416.3,302.7 L416.8,306.0 L418.1,308.1 L419.8,310.2 L419.4,312.2 L420.1,313.9 L421.6,315.3 L422.7,316.2 L422.5,319.7 L424.2,322.1 L425.5,323.2 L425.4,323.8 L426.7,327.4 L426.8,328.1 L428.0,330.0 L428.2,333.3 L429.2,335.0 L431.1,336.5 L432.2,337.1 L432.0,339.9 L433.2,340.7 L433.4,343.9 L434.3,344.6 L434.7,347.2 L434.7,348.8 L435.4,349.8 L435.9,352.9 L437.2,353.9 L437.7,355.3 L438.4,358.4 L438.6,360.5 L440.3,362.4 L440.4,364.2 L440.9,365.0 L441.1,367.4 L442.4,369.6 L443.6,370.8 L444.6,374.7 L445.7,376.3 L446.8,379.4 L447.2,381.9 L447.8,384.2 L447.0,384.7 L448.1,386.4 L448.3,387.6 L447.8,389.0 L449.5,391.3 L449.2,393.0" fill="none" stroke="#000" stroke-width="2.6" stroke-linejoin="round"/>
<path d="M302.7,104.9 L304.5,107.7 L304.8,110.2 L305.7,112.6 L305.9,113.1 L306.7,114.9 L308.5,116.1 L310.1,119.1 L309.9,119.7 L311.2,121.5 L312.9,124.9 L313.7,127.8 L314.0,129.4 L314.4,130.2 L315.9,132.2 L316.7,134.2 L317.3,135.7 L318.7,138.4 L320.4,140.5 L320.2,141.3 L322.3,142.7 L322.7,145.7 L323.3,148.1 L323.6,150.4 L326.0,152.2 L326.6,153.3 L327.0,154.0 L327.7,155.6 L328.5,157.0 L329.8,158.8 L330.3,161.5 L331.1,165.2 L333.2,167.0 L335.2,169.2 L336.6,170.9 L337.7,171.2 L338.0,172.9 L339.6,175.8 L340.2,177.0 L342.4,178.3 L342.7,180.7 L342.5,182.7 L343.7,184.0 L345.4,187.3 L346.5,188.8 L347.2,189.8 L346.8,193.1 L348.8,195.5 L349.7,196.2 L349.2,199.1 L350.2,200.1 L350.4,202.4 L351.8,204.4 L353.0,206.5 L353.6,208.6 L354.0,209.7 L354.6,210.8 L355.4,212.4 L356.4,213.1 L357.2,216.4 L359.3,219.0 L359.5,219.8 L361.7,222.1 L362.8,222.7 L363.7,224.9 L363.9,225.3 L365.4,227.9 L365.9,229.9 L367.8,232.3 L369.4,233.3 L370.0,234.2 L371.7,236.1 L371.8,239.0 L372.2,240.9 L374.1,243.0 L373.8,244.4 L374.5,245.0 L375.0,246.7 L375.9,247.2 L377.9,250.5 L380.1,253.0 L381.4,254.3 L382.1,255.5 L382.7,256.2 L383.6,257.3 L385.6,260.9 L385.2,263.0 L386.6,265.5 L387.5,266.8 L388.3,268.6 L389.6,268.6 L390.2,269.6 L392.1,271.0 L392.6,273.8 L392.9,276.1 L394.1,278.8 L395.4,279.8 L396.8,282.1 L398.9,282.3 L399.2,284.3 L401.3,286.5 L402.6,288.6 L402.6,289.4 L404.5,289.9 L404.9,291.5 L405.1,294.6 L406.7,297.4 L408.5,297.6 L408.4,299.9 L410.2,301.4 L410.9,302.5 L411.2,305.6 L411.7,306.5 L413.0,308.6 L413.4,310.0 L415.4,311.3 L416.9,314.0 L418.4,315.2 L418.8,318.2 L418.4,321.0 L419.0,322.8 L420.8,323.2 L422.0,324.3 L423.3,326.5 L423.6,327.9 L424.1,332.0 L424.8,334.0 L425.2,335.9 L425.6,336.9 L426.2,339.8 L428.2,341.8 L429.3,344.4 L429.9,346.5 L429.4,347.6 L429.9,347.8 L430.9,349.9 L432.0,350.7 L432.6,352.9 L434.0,354.3 L435.0,357.7 L434.4,358.6 L435.5,362.3 L436.0,365.1 L435.9,367.1 L437.3,367.2 L437.7,369.8 L438.7,371.7 L438.2,372.9 L438.8,375.1 L439.3,378.5 L439.9,380.0 L440.4,381.5 L442.1,382.8 L443.1,385.7 L444.5,388.9 L445.3,390.2 L445.7,392.5 L446.5,393.6 L445.4,396.5" fill="none" stroke="#000" stroke-width="2.6" stroke-linejoin="round"/>
<path d="M687.0,367.5 L689.5,365.9 L692.0,365.6 L694.5,367.4 L697.0,365.1 L699.5,366.3 L702.0,366.5 L704.5,366.6 L707.0,365.1 L709.5,366.6 L712.0,366.2 L714.5,367.3 L717.0,364.6 L719.5,367.6 L722.0,365.0 L724.5,367.1 L727.0,366.0 L729.5,367.1 L732.0,364.9 L734.5,365.4 L737.0,364.6 L739.5,366.8 L742.0,365.9 L744.5,364.9 L747.0,364.8 L749.5,364.4 L752.0,364.8 L754.5,365.9 L757.0,365.5 L759.5,366.3 L762.0,364.2 L764.5,366.7 L767.0,367.1 L769.5,366.3 L772.0,366.3 L774.5,366.6 L777.0,364.1 L779.5,365.3 L782.0,364.0 L784.5,366.2 L787.0,365.4 L789.5,364.0 L792.0,365.1 L794.5,366.1 L797.0,365.3 L799.5,363.9 L802.0,366.5 L804.5,363.7 L807.0,366.2 L809.5,366.5 L812.0,365.8 L814.5,366.4 L817.0,365.0 L819.5,364.0 L822.0,364.8 L824.5,365.6 L827.0,365.7 L829.5,364.4 L832.0,366.2 L834.5,363.2 L837.0,364.7 L839.5,363.2 L842.0,364.2 L844.5,366.2 L847.0,363.4 L849.5,366.1 L852.0,365.8 L854.5,365.1 L857.0,363.0 L859.5,364.3 L862.0,365.0 L864.5,363.1 L867.0,363.7 L869.5,363.0 L872.0,365.4 L874.5,365.6 L877.0,365.6 L879.5,365.0 L882.0,364.4 L884.5,362.7 L887.0,364.0 L889.5,364.9 L892.0,364.9" fill="none" stroke="#000" stroke-width="3.6" stroke-linejoin="round"/>
<path d="M702,366 L704,373 L707,373 L708,366" fill="#000" stroke="#000" stroke-width="1.5" stroke-linejoin="round"/>
<path d="M723,366 L725,373.5 L728,373.5 L729,366" fill="#000" stroke="#000" stroke-width="1.5" stroke-linejoin="round"/>
<path d="M748,366 L750,372.5 L753,372.5 L754,366" fill="#000" stroke="#000" stroke-width="1.5" stroke-linejoin="round"/>
<path d="M765,358 L767,366 L770,366 L771,358" fill="#000" stroke="#000" stroke-width="1.5" stroke-linejoin="round"/>
<path d="M797,356 L799,372 L802,372 L803,356" fill="#000" stroke="#000" stroke-width="1.5" stroke-linejoin="round"/>
<path d="M803,358 L805,366 L808,366 L809,358" fill="#000" stroke="#000" stroke-width="1.5" stroke-linejoin="round"/>
<path d="M817,366 L819,372.5 L822,372.5 L823,366" fill="#000" stroke="#000" stroke-width="1.5" stroke-linejoin="round"/>
<path d="M843,365 L845,372 L848,372 L849,365" fill="#000" stroke="#000" stroke-width="1.5" stroke-linejoin="round"/>
<path d="M855,365 L857,372.5 L860,372.5 L861,365" fill="#000" stroke="#000" stroke-width="1.5" stroke-linejoin="round"/>
<path d="M869,364 L871,370 L874,370 L875,364" fill="#000" stroke="#000" stroke-width="1.5" stroke-linejoin="round"/>
<path d="M615,364 L622,362 L626,354 L629,356 L632,363 L640,365" fill="none" stroke="#111" stroke-width="1.6"/>
<path d="M206.6,103.8 L209.5,103.2 L211.7,103.7 L213.3,103.9 L215.5,104.2 L217.8,104.5 L219.6,104.7 L221.2,103.5 L223.0,104.0 L225.6,104.0 L228.2,103.0 L230.7,102.4 L231.9,103.7 L234.3,104.1 L236.4,103.3 L238.8,103.0 L241.1,103.9 L242.3,103.2 L244.3,104.0 L246.7,103.6 L248.1,104.7 L250.3,104.0 L252.4,104.0 L254.0,104.1 L255.5,103.2 L258.1,103.5 L260.4,103.6 L262.7,103.8 L264.1,104.0 L265.4,103.2 L268.2,102.5 L270.5,103.6 L272.5,102.9 L274.8,102.6 L276.8,103.4 L278.3,103.7 L280.8,104.3 L282.3,103.6 L284.4,104.1 L286.1,103.8 L287.7,104.7 L290.1,103.8 L292.6,103.4 L294.9,103.4 L297.0,103.5 L298.8,104.2 L299.0,105.6 L299.6,107.0 L300.3,109.8 L302.2,111.1 L303.4,112.4 L305.2,114.0 L307.3,115.4 L308.5,117.8 L309.5,119.8 L311.2,122.3 L311.5,124.2 L313.7,125.5 L314.8,127.1 L316.2,128.2 L318.9,129.5 L320.8,129.6 L322.5,131.1 L325.0,132.5 L326.4,134.2 L328.8,134.2 L330.2,136.4 L330.6,139.0 L331.5,140.7 L333.0,142.9 L334.1,143.9 L334.8,146.0 L336.1,147.2 L337.3,148.5 L339.0,151.6 L340.4,152.5 L341.5,155.1 L342.3,156.1 L343.2,157.9 L343.4,160.0 L344.5,161.7 L345.5,163.6 L345.3,166.1 L346.2,168.5 L347.4,169.6 L347.2,171.5 L348.5,174.3 L348.8,176.0 L349.9,178.0 L350.6,180.3 L351.9,182.1 L352.2,183.2 L353.7,185.3 L355.0,187.7 L355.9,189.3 L356.3,190.3 L357.7,191.7 L358.5,195.0 L359.0,197.1 L359.3,199.2 L360.3,200.3 L361.0,202.7 L361.6,203.6 L362.8,206.1 L363.8,208.5 L364.6,210.4 L366.6,212.4 L367.6,214.3 L368.9,216.2 L369.1,218.2 L370.4,219.9 L370.6,220.8 L371.6,223.1 L373.1,224.5 L373.5,226.1 L374.5,228.1 L375.7,229.4 L376.1,232.1 L377.5,234.2 L377.9,235.6 L378.7,237.5 L380.4,238.7 L380.6,240.2 L382.4,243.0 L383.0,244.3 L384.2,246.3 L385.2,247.3 L386.5,249.1 L387.7,251.3 L388.3,253.4 L388.4,254.6 L389.2,256.6 L390.0,258.3 L391.0,260.0 L392.3,263.3 L393.5,265.3 L394.0,267.5 L393.8,269.0 L395.3,271.5 L396.2,273.5 L397.4,275.5 L398.1,277.7 L399.1,278.0 L399.3,280.1 L399.5,281.8 L400.5,282.9 L400.6,285.4 L402.3,288.2 L402.9,290.4 L403.6,291.6 L405.0,293.1 L406.0,295.8 L406.3,297.3 L406.5,299.3 L408.0,300.3 L408.1,301.9 L408.2,304.1 L408.8,306.1 L409.3,308.6 L410.3,310.8 L411.9,312.8 L412.3,315.1 L412.8,317.2 L413.3,318.1 L414.0,319.7 L416.0,321.6 L417.0,323.9 L418.4,324.8 L419.4,326.6 L419.4,328.1 L420.5,331.2 L421.0,332.3 L421.4,334.4 L421.8,335.7 L422.9,337.8 L423.9,339.5 L424.7,341.3 L425.2,343.8 L426.2,344.8 L427.2,346.5 L428.8,349.4 L430.0,351.6 L430.2,352.6 L430.6,353.8 L431.1,355.5 L432.8,357.5 L434.0,359.7 L434.8,361.7 L436.1,363.4 L437.6,365.5 L438.5,366.5 L439.3,367.5 L439.6,369.6 L440.0,372.6 L440.9,374.2 L442.5,375.9 L443.1,378.8 L444.5,380.8 L445.0,382.0 L446.4,383.9 L447.6,385.6 L448.3,387.2 L448.3,389.8 L449.8,391.6 L451.2,392.0 L453.7,392.4 L455.8,392.8 L458.3,394.8 L460.3,395.5 L462.1,396.9 L464.6,395.2 L465.8,393.0 L468.2,391.2 L470.3,391.0 L470.1,389.0 L471.0,386.5 L471.5,384.0 L472.0,381.8 L473.1,379.0 L474.2,376.8 L475.8,375.4 L476.6,374.3 L478.0,371.6 L479.7,371.1 L481.3,370.8 L483.0,368.8 L484.8,366.7 L486.7,365.0 L488.9,365.2 L491.2,364.2 L493.8,364.8 L495.0,364.5 L496.7,364.4 L498.4,364.6 L500.9,362.9 L504.0,362.0 L505.6,363.0" fill="none" stroke="#ff0000" stroke-width="3.4" stroke-linejoin="round"/>
<path d="M500.0,365.1 L503.0,363.1 L506.0,365.4 L509.0,364.8 L512.0,363.5 L515.0,363.9 L518.0,362.8 L521.0,363.1 L524.0,364.5 L527.0,364.9 L530.0,363.2 L533.0,364.6 L536.0,363.7 L539.0,364.2 L542.0,365.0 L545.0,363.3 L548.0,363.1 L551.0,363.8 L554.0,365.3 L557.0,363.7 L560.0,364.9 L563.0,363.0 L566.0,364.6 L569.0,364.9 L572.0,363.5 L575.0,363.1 L578.0,362.8 L581.0,362.9 L584.0,363.3 L587.0,364.1 L590.0,364.9 L593.0,363.1 L596.0,365.0 L599.0,362.9 L602.0,363.8 L605.0,364.5 L608.0,364.9 L611.0,364.9 L614.0,365.0 L617.0,362.6 L620.0,364.7 L623.0,362.3 L626.0,363.6 L629.0,363.3 L632.0,363.5 L635.0,362.5 L638.0,363.4 L641.0,364.1 L644.0,364.1 L647.0,362.2 L650.0,364.4 L653.0,363.1 L656.0,363.7 L659.0,363.0 L662.0,364.0 L665.0,363.6 L668.0,364.6 L671.0,362.3 L674.0,363.2 L677.0,364.9 L680.0,362.1 L683.0,362.4 L686.0,364.1 L689.0,364.8 L692.0,362.3 L695.0,362.6 L698.0,363.9 L701.0,363.4 L704.0,364.6 L707.0,362.3 L710.0,362.3 L713.0,362.5 L716.0,363.1 L719.0,362.6 L722.0,363.3 L725.0,362.2 L728.0,363.5 L731.0,362.8 L734.0,362.5 L737.0,362.3 L740.0,362.7 L743.0,362.7 L746.0,364.5 L749.0,363.6 L752.0,364.2 L755.0,363.1 L758.0,362.0 L761.0,363.5 L764.0,363.8 L767.0,364.5 L770.0,361.7 L773.0,361.8 L776.0,363.9 L779.0,362.3 L782.0,361.7 L785.0,361.9 L788.0,363.9 L791.0,363.1 L794.0,364.2 L797.0,363.8 L800.0,362.9 L803.0,362.6 L806.0,362.5 L809.0,362.0 L812.0,364.1 L815.0,362.7 L818.0,362.9 L821.0,362.7 L824.0,363.0 L827.0,363.9 L830.0,363.3 L833.0,362.8 L836.0,363.4 L839.0,363.6 L842.0,363.1 L845.0,362.9 L848.0,361.9 L851.0,361.8 L854.0,363.2 L857.0,363.4 L860.0,363.7 L863.0,362.1 L866.0,362.5 L869.0,361.3 L872.0,362.9 L875.0,362.9 L878.0,362.0 L881.0,363.2 L884.0,363.8 L887.0,362.5 L890.0,363.0 L893.0,362.9" fill="none" stroke="#ff0000" stroke-width="3" stroke-linejoin="round"/>
<g clip-path="url(#fc)"><path d="M206.6,103.8 L209.5,103.2 L211.7,103.7 L213.3,103.9 L215.5,104.2 L217.8,104.5 L219.6,104.7 L221.2,103.5 L223.0,104.0 L225.6,104.0 L228.2,103.0 L230.7,102.4 L231.9,103.7 L234.3,104.1 L236.4,103.3 L238.8,103.0 L241.1,103.9 L242.3,103.2 L244.3,104.0 L246.7,103.6 L248.1,104.7 L250.3,104.0 L252.4,104.0 L254.0,104.1 L255.5,103.2 L258.1,103.5 L260.4,103.6 L262.7,103.8 L264.1,104.0 L265.4,103.2 L268.2,102.5 L270.5,103.6 L272.5,102.9 L274.8,102.6 L276.8,103.4 L278.3,103.7 L280.8,104.3 L282.3,103.6 L284.4,104.1 L286.1,103.8 L287.7,104.7 L290.1,103.8 L292.6,103.4 L294.9,103.4 L297.0,103.5 L298.8,104.2 L299.0,105.6 L299.6,107.0 L300.3,109.8 L302.2,111.1 L303.4,112.4 L305.2,114.0 L307.3,115.4 L308.5,117.8 L309.5,119.8 L311.2,122.3 L311.5,124.2 L313.7,125.5 L314.8,127.1 L316.2,128.2 L318.9,129.5 L320.8,129.6 L322.5,131.1 L325.0,132.5 L326.4,134.2 L328.8,134.2 L330.2,136.4 L330.6,139.0 L331.5,140.7 L333.0,142.9 L334.1,143.9 L334.8,146.0 L336.1,147.2 L337.3,148.5 L339.0,151.6 L340.4,152.5 L341.5,155.1 L342.3,156.1 L343.2,157.9 L343.4,160.0 L344.5,161.7 L345.5,163.6 L345.3,166.1 L346.2,168.5 L347.4,169.6 L347.2,171.5 L348.5,174.3 L348.8,176.0 L349.9,178.0 L350.6,180.3 L351.9,182.1 L352.2,183.2 L353.7,185.3 L355.0,187.7 L355.9,189.3 L356.3,190.3 L357.7,191.7 L358.5,195.0 L359.0,197.1 L359.3,199.2 L360.3,200.3 L361.0,202.7 L361.6,203.6 L362.8,206.1 L363.8,208.5 L364.6,210.4 L366.6,212.4 L367.6,214.3 L368.9,216.2 L369.1,218.2 L370.4,219.9 L370.6,220.8 L371.6,223.1 L373.1,224.5 L373.5,226.1 L374.5,228.1 L375.7,229.4 L376.1,232.1 L377.5,234.2 L377.9,235.6 L378.7,237.5 L380.4,238.7 L380.6,240.2 L382.4,243.0 L383.0,244.3 L384.2,246.3 L385.2,247.3 L386.5,249.1 L387.7,251.3 L388.3,253.4 L388.4,254.6 L389.2,256.6 L390.0,258.3 L391.0,260.0 L392.3,263.3 L393.5,265.3 L394.0,267.5 L393.8,269.0 L395.3,271.5 L396.2,273.5 L397.4,275.5 L398.1,277.7 L399.1,278.0 L399.3,280.1 L399.5,281.8 L400.5,282.9 L400.6,285.4 L402.3,288.2 L402.9,290.4 L403.6,291.6 L405.0,293.1 L406.0,295.8 L406.3,297.3 L406.5,299.3 L408.0,300.3 L408.1,301.9 L408.2,304.1 L408.8,306.1 L409.3,308.6 L410.3,310.8 L411.9,312.8 L412.3,315.1 L412.8,317.2 L413.3,318.1 L414.0,319.7 L416.0,321.6 L417.0,323.9 L418.4,324.8 L419.4,326.6 L419.4,328.1 L420.5,331.2 L421.0,332.3 L421.4,334.4 L421.8,335.7 L422.9,337.8 L423.9,339.5 L424.7,341.3 L425.2,343.8 L426.2,344.8 L427.2,346.5 L428.8,349.4 L430.0,351.6 L430.2,352.6 L430.6,353.8 L431.1,355.5 L432.8,357.5 L434.0,359.7 L434.8,361.7 L436.1,363.4 L437.6,365.5 L438.5,366.5 L439.3,367.5 L439.6,369.6 L440.0,372.6 L440.9,374.2 L442.5,375.9 L443.1,378.8 L444.5,380.8 L445.0,382.0 L446.4,383.9 L447.6,385.6 L448.3,387.2 L448.3,389.8 L449.8,391.6 L451.2,392.0 L453.7,392.4 L455.8,392.8 L458.3,394.8 L460.3,395.5 L462.1,396.9 L464.6,395.2 L465.8,393.0 L468.2,391.2 L470.3,391.0 L470.1,389.0 L471.0,386.5 L471.5,384.0 L472.0,381.8 L473.1,379.0 L474.2,376.8 L475.8,375.4 L476.6,374.3 L478.0,371.6 L479.7,371.1 L481.3,370.8 L483.0,368.8 L484.8,366.7 L486.7,365.0 L488.9,365.2 L491.2,364.2 L493.8,364.8 L495.0,364.5 L496.7,364.4 L498.4,364.6 L500.9,362.9 L504.0,362.0 L505.6,363.0" fill="none" stroke="#9a4a72" stroke-width="3.4" stroke-linejoin="round"/><path d="M500.0,365.1 L503.0,363.1 L506.0,365.4 L509.0,364.8 L512.0,363.5 L515.0,363.9 L518.0,362.8 L521.0,363.1 L524.0,364.5 L527.0,364.9 L530.0,363.2 L533.0,364.6 L536.0,363.7 L539.0,364.2 L542.0,365.0 L545.0,363.3 L548.0,363.1 L551.0,363.8 L554.0,365.3 L557.0,363.7 L560.0,364.9 L563.0,363.0 L566.0,364.6 L569.0,364.9 L572.0,363.5 L575.0,363.1 L578.0,362.8 L581.0,362.9 L584.0,363.3 L587.0,364.1 L590.0,364.9 L593.0,363.1 L596.0,365.0 L599.0,362.9 L602.0,363.8 L605.0,364.5 L608.0,364.9 L611.0,364.9 L614.0,365.0 L617.0,362.6 L620.0,364.7 L623.0,362.3 L626.0,363.6 L629.0,363.3 L632.0,363.5 L635.0,362.5 L638.0,363.4 L641.0,364.1 L644.0,364.1 L647.0,362.2 L650.0,364.4 L653.0,363.1 L656.0,363.7 L659.0,363.0 L662.0,364.0 L665.0,363.6 L668.0,364.6 L671.0,362.3 L674.0,363.2 L677.0,364.9 L680.0,362.1 L683.0,362.4 L686.0,364.1 L689.0,364.8 L692.0,362.3 L695.0,362.6 L698.0,363.9 L701.0,363.4 L704.0,364.6 L707.0,362.3 L710.0,362.3 L713.0,362.5 L716.0,363.1 L719.0,362.6 L722.0,363.3 L725.0,362.2 L728.0,363.5 L731.0,362.8 L734.0,362.5 L737.0,362.3 L740.0,362.7 L743.0,362.7 L746.0,364.5 L749.0,363.6 L752.0,364.2 L755.0,363.1 L758.0,362.0 L761.0,363.5 L764.0,363.8 L767.0,364.5 L770.0,361.7 L773.0,361.8 L776.0,363.9 L779.0,362.3 L782.0,361.7 L785.0,361.9 L788.0,363.9 L791.0,363.1 L794.0,364.2 L797.0,363.8 L800.0,362.9 L803.0,362.6 L806.0,362.5 L809.0,362.0 L812.0,364.1 L815.0,362.7 L818.0,362.9 L821.0,362.7 L824.0,363.0 L827.0,363.9 L830.0,363.3 L833.0,362.8 L836.0,363.4 L839.0,363.6 L842.0,363.1 L845.0,362.9 L848.0,361.9 L851.0,361.8 L854.0,363.2 L857.0,363.4 L860.0,363.7 L863.0,362.1 L866.0,362.5 L869.0,361.3 L872.0,362.9 L875.0,362.9 L878.0,362.0 L881.0,363.2 L884.0,363.8 L887.0,362.5 L890.0,363.0 L893.0,362.9" fill="none" stroke="#9a4a72" stroke-width="3" stroke-linejoin="round"/></g>
<path d="M206.7,105.8 L208.8,105.1 L211.1,105.7 L213.0,106.3 L214.9,105.6 L217.2,104.9 L219.3,104.1 L221.5,104.9 L223.7,104.4 L225.5,105.4 L227.9,105.8 L229.8,105.1 L231.8,106.0 L233.7,104.9 L235.9,105.8 L238.1,106.3 L240.3,106.0 L242.2,105.6 L244.2,106.4 L246.1,106.9 L247.8,106.8 L249.8,105.9 L251.7,105.0 L253.7,104.6 L255.8,105.4 L257.7,105.2 L260.1,104.8 L262.1,105.4 L264.2,104.6 L266.0,104.2 L268.1,105.6 L270.2,105.4 L272.2,105.9 L273.8,105.0 L275.8,104.7 L278.2,104.4 L280.0,105.5 L281.9,105.7 L283.9,106.3 L285.8,105.4 L287.8,105.5 L290.1,105.6 L291.9,105.3 L294.0,106.4 L295.7,105.1 L297.9,104.5 L299.0,107.6 L300.0,108.7 L301.2,112.1" fill="none" stroke="#ff0000" stroke-width="3" stroke-linejoin="round"/>
<line x1="406" y1="354" x2="453.7" y2="373.4" stroke="#111" stroke-width="1.8"/><path d="M465.7,378.3 L451.6,378.5 L455.7,368.3 Z" fill="#111"/>
<line x1="316.8" y1="441.3" x2="474.6" y2="454.2" stroke="#111" stroke-width="1.8"/><path d="M487.6,455.3 L474.2,459.7 L475.1,448.8 Z" fill="#111"/>
<line x1="316.8" y1="467" x2="486.1" y2="477.6" stroke="#111" stroke-width="1.8"/><path d="M499.1,478.4 L485.8,483.1 L486.5,472.1 Z" fill="#111"/>
<line x1="324.9" y1="491.4" x2="529.9" y2="516.6" stroke="#111" stroke-width="1.8"/><path d="M542.8,518.2 L529.2,522.1 L530.6,511.2 Z" fill="#111"/>
<line x1="324.9" y1="521.5" x2="558.9" y2="586.3" stroke="#111" stroke-width="1.8"/><path d="M571.4,589.8 L557.4,591.6 L560.3,581.0 Z" fill="#111"/>
<g clip-path="url(#fc)"><line x1="406" y1="354" x2="453.7" y2="373.4" stroke="#1a4d6b" stroke-width="1.8"/><path d="M465.7,378.3 L451.6,378.5 L455.7,368.3 Z" fill="#1a4d6b"/><line x1="316.8" y1="441.3" x2="474.6" y2="454.2" stroke="#1a4d6b" stroke-width="1.8"/><path d="M487.6,455.3 L474.2,459.7 L475.1,448.8 Z" fill="#1a4d6b"/><line x1="316.8" y1="467" x2="486.1" y2="477.6" stroke="#1a4d6b" stroke-width="1.8"/><path d="M499.1,478.4 L485.8,483.1 L486.5,472.1 Z" fill="#1a4d6b"/><line x1="324.9" y1="491.4" x2="529.9" y2="516.6" stroke="#1a4d6b" stroke-width="1.8"/><path d="M542.8,518.2 L529.2,522.1 L530.6,511.2 Z" fill="#1a4d6b"/><line x1="324.9" y1="521.5" x2="558.9" y2="586.3" stroke="#1a4d6b" stroke-width="1.8"/><path d="M571.4,589.8 L557.4,591.6 L560.3,581.0 Z" fill="#1a4d6b"/></g>
<text xml:space="preserve" x="256.9" y="332.5" font-family="Liberation Sans" font-size="17" fill="#111" text-anchor="start" textLength="126.7" lengthAdjust="spacingAndGlyphs" >NPD010N120A</text>
<text x="219.5" y="353.6" font-family="Liberation Sans" font-size="18" letter-spacing="0.45" fill="#111"><tspan font-weight="bold">T</tspan><tspan font-size="9" dy="4">J</tspan><tspan dy="-4">=25,75,125,175°C</tspan></text>
<text xml:space="preserve" x="213" y="416" font-family="Liberation Sans" font-size="18.5" fill="#111" text-anchor="start" textLength="153.4" lengthAdjust="spacingAndGlyphs" >1200V 10A  Si FRD</text>
<text x="228.6" y="448.6" font-family="Liberation Sans" font-size="18" letter-spacing="0.45" fill="#111">T<tspan font-size="9" dy="4">J</tspan><tspan dy="-4">=25°C</tspan></text>
<text x="228.6" y="474.3" font-family="Liberation Sans" font-size="18" letter-spacing="0.45" fill="#111">T<tspan font-size="9" dy="4">J</tspan><tspan dy="-4">=50°C</tspan></text>
<text x="217.9" y="498.9" font-family="Liberation Sans" font-size="18" letter-spacing="0.45" fill="#111">T<tspan font-size="9" dy="4">J</tspan><tspan dy="-4">=100°C</tspan></text>
<text x="217.9" y="524.2" font-family="Liberation Sans" font-size="18" letter-spacing="0.45" fill="#111">T<tspan font-size="9" dy="4">J</tspan><tspan dy="-4">=150°C</tspan></text>
<path d="M506.2,361.4 L519.2,324 L527.5,332 L593.9,263.9 L602,271.2 L535.5,340 L543.6,348.4 Z" fill="#33cc33" stroke="#33cc33" stroke-width="1" stroke-linejoin="round"/>
<path d="M609.1,490.7 L648.7,488.9 L643.2,499.5 L706,526 L706,538.2 L638.7,511.5 L634.1,520 Z" fill="#0a0af0"/>
<defs><linearGradient id="gT" x1="0" y1="0" x2="1" y2="0"><stop offset="0" stop-color="#21a9d8"/><stop offset="0.5" stop-color="#1a78b8"/><stop offset="1" stop-color="#0e3784"/></linearGradient><linearGradient id="gB" x1="0" y1="0" x2="1" y2="0"><stop offset="0" stop-color="#21a9d8"/><stop offset="0.5" stop-color="#1a78b8"/><stop offset="1" stop-color="#0e3784"/></linearGradient></defs>
<rect x="440.5" y="147.3" width="629.5" height="94" rx="21" ry="21" fill="url(#gT)"/>
<rect x="705.8" y="495.2" width="364.2" height="121" rx="18" ry="18" fill="url(#gB)"/>
<text x="735.9" y="189.8" text-anchor="middle" font-family="Liberation Sans" font-weight="bold" font-size="25.5" fill="#fff" textLength="394.8" lengthAdjust="spacingAndGlyphs">SiC reverse recovery waveform -</text>
<text x="739" y="218.8" text-anchor="middle" font-family="Liberation Sans" font-weight="bold" font-size="25.5" fill="#fff" textLength="248.4" lengthAdjust="spacingAndGlyphs">Constant over Temp</text>
<text x="888" y="543.5" text-anchor="middle" font-family="Liberation Sans" font-weight="bold" font-size="25.5" fill="#fff" textLength="158" lengthAdjust="spacingAndGlyphs">Silicon Diode</text>
<text x="888.3" y="574.8" text-anchor="middle" font-family="Liberation Sans" font-weight="bold" font-size="25.5" fill="#fff" textLength="235" lengthAdjust="spacingAndGlyphs">Large recovery loss</text>
<g opacity="0.06" fill="#000" stroke="#000" stroke-linejoin="round"><text transform="translate(624.3,403.7) rotate(-45)" font-family="Liberation Sans" font-weight="bold" font-size="55" stroke-width="2.5" textLength="392" lengthAdjust="spacingAndGlyphs">NOVOSENSE</text><text transform="translate(668,432) rotate(-45)" font-family="Liberation Sans" font-weight="bold" font-size="64" stroke-width="2" textLength="365" lengthAdjust="spacing">纳芯微电子</text><path stroke="none" d="M515,606 L546,571 L525,525 L493,513 Z"/><path stroke="none" d="M548,396 L580,370 L610,491 L596,525 L530,496 L522,470 L564,467 Z"/><path stroke="none" d="M603,372 L617,360 L634,392 L624,400 Z"/></g>
</svg>
<div class="r" style="top:218px;font-size:40px;letter-spacing:-0.5px;">NPD010N120A</div>
<div class="r" style="top:275px;font-size:44.5px;font-weight:bold;color:#c00000;">反向恢复特性</div>
<div class="r" style="top:340px;font-size:44px;letter-spacing:1.2px;">明显优于Si基</div>
<div class="r" style="top:399px;font-size:44px;letter-spacing:1.2px;">二级管且不受</div>
<div class="r" style="top:457px;font-size:44px;letter-spacing:1.2px;">温度变化影响</div>
</body></html>
